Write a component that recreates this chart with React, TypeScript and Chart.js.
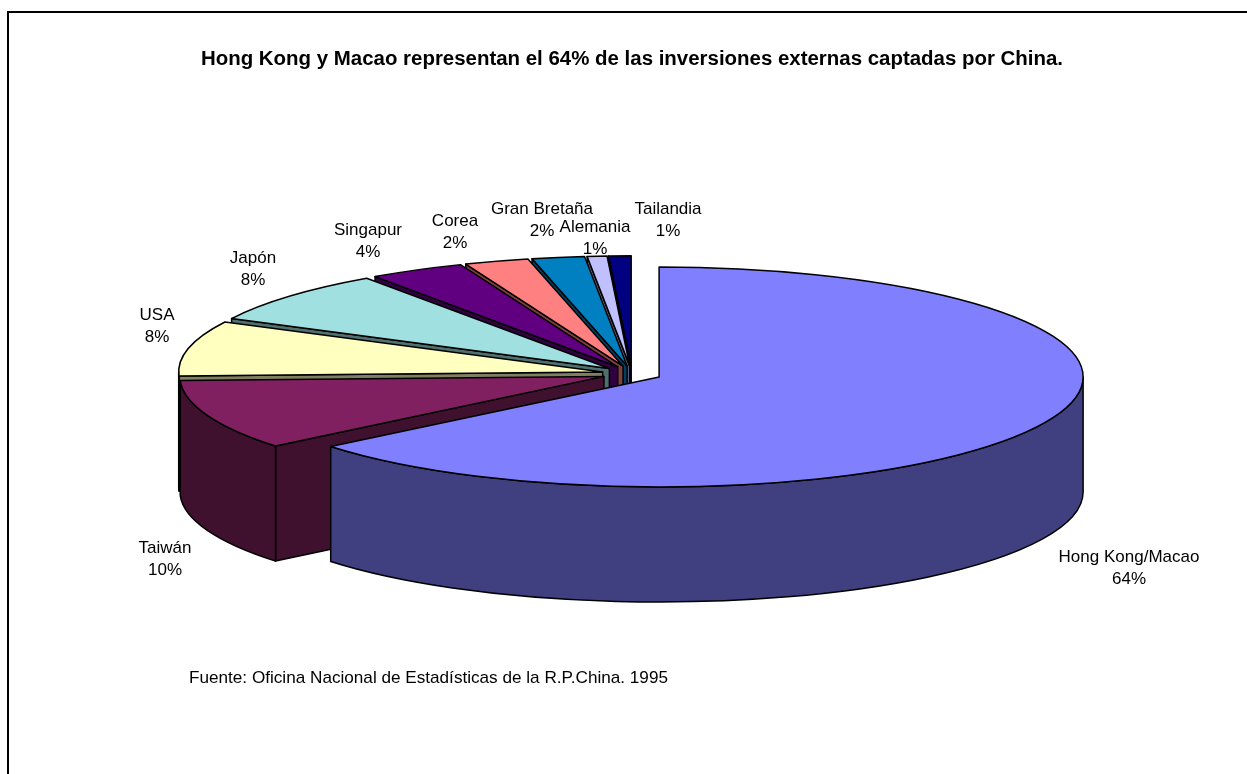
import React, { useEffect, useRef } from "react";
import { Chart, ArcElement, registerables } from "chart.js";

Chart.register(...registerables);

const categories = ["Hong Kong/Macao", "Taiwán", "USA", "Japón", "Singapur", "Corea", "Gran Bretaña", "Alemania", "Tailandia"];
const shares = [64.1, 10.3, 8.1, 7.8, 3.65, 2.45, 2, 0.75, 0.85];
const sliceColors = ["#8080FF", "#802060", "#FFFFC0", "#A0E0E0", "#600080", "#FF8080", "#0080C0", "#C0C0FF", "#000080"];
const wallColors = ["#404080", "#40102F", "#808060", "#507070", "#300040", "#804040", "#004060", "#606080", "#000040"];

const titleText = "Hong Kong y Macao representan el 64% de las inversiones externas captadas por China.";
const sourceNote = "Fuente: Oficina Nacional de Estadísticas de la R.P.China. 1995";

// Centre of each two-line slice label, page pixels, in category order.
const labelCentres = [
  [1129, 568], [165, 559], [157, 326], [253, 269], [368, 241], [455, 232], [542, 220], [595, 238], [668, 220],
];

const FONT = '"Liberation Sans", Arial, sans-serif';
const TILT = 110 / 424;
const DEPTH = 115;
const RADIUS = 424;
const EXPLODE = 30;
const LINE = 1.5;

function geometry(arc: any, cy: number) {
  const mid = (arc.startAngle + arc.endAngle) / 2;
  return {
    x: arc.x + Math.cos(mid) * EXPLODE,
    y: cy + (arc.y - cy + Math.sin(mid) * EXPLODE) * TILT,
    r: arc.outerRadius,
    a0: arc.startAngle,
    a1: arc.endAngle,
  };
}

const pie3d = {
  id: "pie3d",
  beforeDraw(chart: any) {
    const { ctx } = chart;
    ctx.save();
    ctx.fillStyle = "#FFFFFF";
    ctx.fillRect(0, 0, chart.width, chart.height);
    ctx.fillStyle = "#000000";
    ctx.fillRect(7, 11, chart.width - 7, 2);
    ctx.fillRect(7, 11, 2, chart.height - 11);
    ctx.restore();
  },
  beforeDatasetsDraw(chart: any) {
    const { ctx, chartArea } = chart;
    const cy = (chartArea.top + chartArea.bottom) / 2;
    const arcs = chart.getDatasetMeta(0).data;
    ctx.save();
    ctx.lineWidth = LINE;
    ctx.strokeStyle = "#000000";
    ctx.lineJoin = "round";
    for (let i = arcs.length - 1; i >= 0; i--) {
      const g = geometry(arcs[i], cy);
      ctx.fillStyle = wallColors[i];
      const rx = g.r;
      const ry = g.r * TILT;
      const face = (a: number) => {
        ctx.beginPath();
        ctx.moveTo(g.x, g.y);
        ctx.lineTo(g.x + Math.cos(a) * rx, g.y + Math.sin(a) * ry);
        ctx.lineTo(g.x + Math.cos(a) * rx, g.y + Math.sin(a) * ry + DEPTH);
        ctx.lineTo(g.x, g.y + DEPTH);
        ctx.closePath();
        ctx.fill();
        ctx.stroke();
      };
      // Cut faces turned toward the viewer.
      if (Math.cos(g.a0) < 0) face(g.a0);
      if (Math.cos(g.a1) > 0) face(g.a1);
      // Outer wall: only the near half of the rim.
      const t0 = Math.max(g.a0, 0);
      const t1 = Math.min(g.a1, Math.PI);
      if (t1 > t0) {
        ctx.beginPath();
        ctx.ellipse(g.x, g.y, rx, ry, 0, t0, t1);
        ctx.ellipse(g.x, g.y + DEPTH, rx, ry, 0, t1, t0, true);
        ctx.closePath();
        ctx.fill();
        ctx.stroke();
      }
    }
    ctx.restore();
    // Each arc is still drawn by the library, pulled out along its mid-angle.
    arcs.forEach((arc: any) => {
      arc.draw = function (c: CanvasRenderingContext2D) {
        const mid = (this.startAngle + this.endAngle) / 2;
        c.save();
        c.translate(Math.cos(mid) * EXPLODE, Math.sin(mid) * EXPLODE);
        ArcElement.prototype.draw.call(this, c);
        c.restore();
      };
    });
    // Squash the library's own arcs into the tilted plane.
    ctx.save();
    ctx.translate(0, cy);
    ctx.scale(1, TILT);
    ctx.translate(0, -cy);
  },
  afterDatasetsDraw(chart: any) {
    const { ctx, chartArea } = chart;
    ctx.restore();
    const cy = (chartArea.top + chartArea.bottom) / 2;
    const arcs = chart.getDatasetMeta(0).data;
    ctx.save();
    ctx.lineWidth = LINE;
    ctx.strokeStyle = "#000000";
    ctx.lineJoin = "round";
    arcs.forEach((arc: any) => {
      const g = geometry(arc, cy);
      ctx.beginPath();
      ctx.moveTo(g.x, g.y);
      ctx.ellipse(g.x, g.y, g.r, g.r * TILT, 0, g.a0, g.a1);
      ctx.closePath();
      ctx.stroke();
    });
    // Slice labels and source note.
    ctx.fillStyle = "#000000";
    ctx.font = `17px ${FONT}`;
    ctx.textAlign = "center";
    ctx.textBaseline = "middle";
    categories.forEach((name, i) => {
      const [x, y] = labelCentres[i];
      ctx.fillText(name, x, y - 11);
      ctx.fillText(`${Math.round(shares[i])}%`, x, y + 11);
    });
    ctx.textAlign = "left";
    ctx.font = `17.15px ${FONT}`;
    ctx.fillText(sourceNote, 189, 678);
    ctx.restore();
  },
};

export default function App() {
  const ref = useRef<HTMLCanvasElement>(null);
  useEffect(() => {
    document.body.style.margin = "0";
    const chart = new Chart(ref.current as HTMLCanvasElement, {
      type: "pie",
      data: {
        labels: categories,
        datasets: [
          {
            data: shares,
            backgroundColor: sliceColors,
            borderWidth: 0,
            radius: RADIUS,
            clip: false,
          } as any,
        ],
      },
      options: {
        responsive: false,
        animation: false,
        layout: { padding: { left: 17, right: 0, top: 0, bottom: 117 } },
        plugins: {
          legend: { display: false },
          tooltip: { enabled: false },
          title: {
            display: true,
            text: titleText,
            color: "#000000",
            font: { family: FONT, size: 20.46, weight: "bold" },
            padding: { top: 46.7, bottom: 19 },
          },
        },
      },
      plugins: [pie3d],
    } as any);
    return () => chart.destroy();
  }, []);
  return (
    <div style={{ width: 1247, height: 774, overflow: "hidden" }}>
      <canvas ref={ref} width={1247} height={774} style={{ display: "block" }} />
    </div>
  );
}
